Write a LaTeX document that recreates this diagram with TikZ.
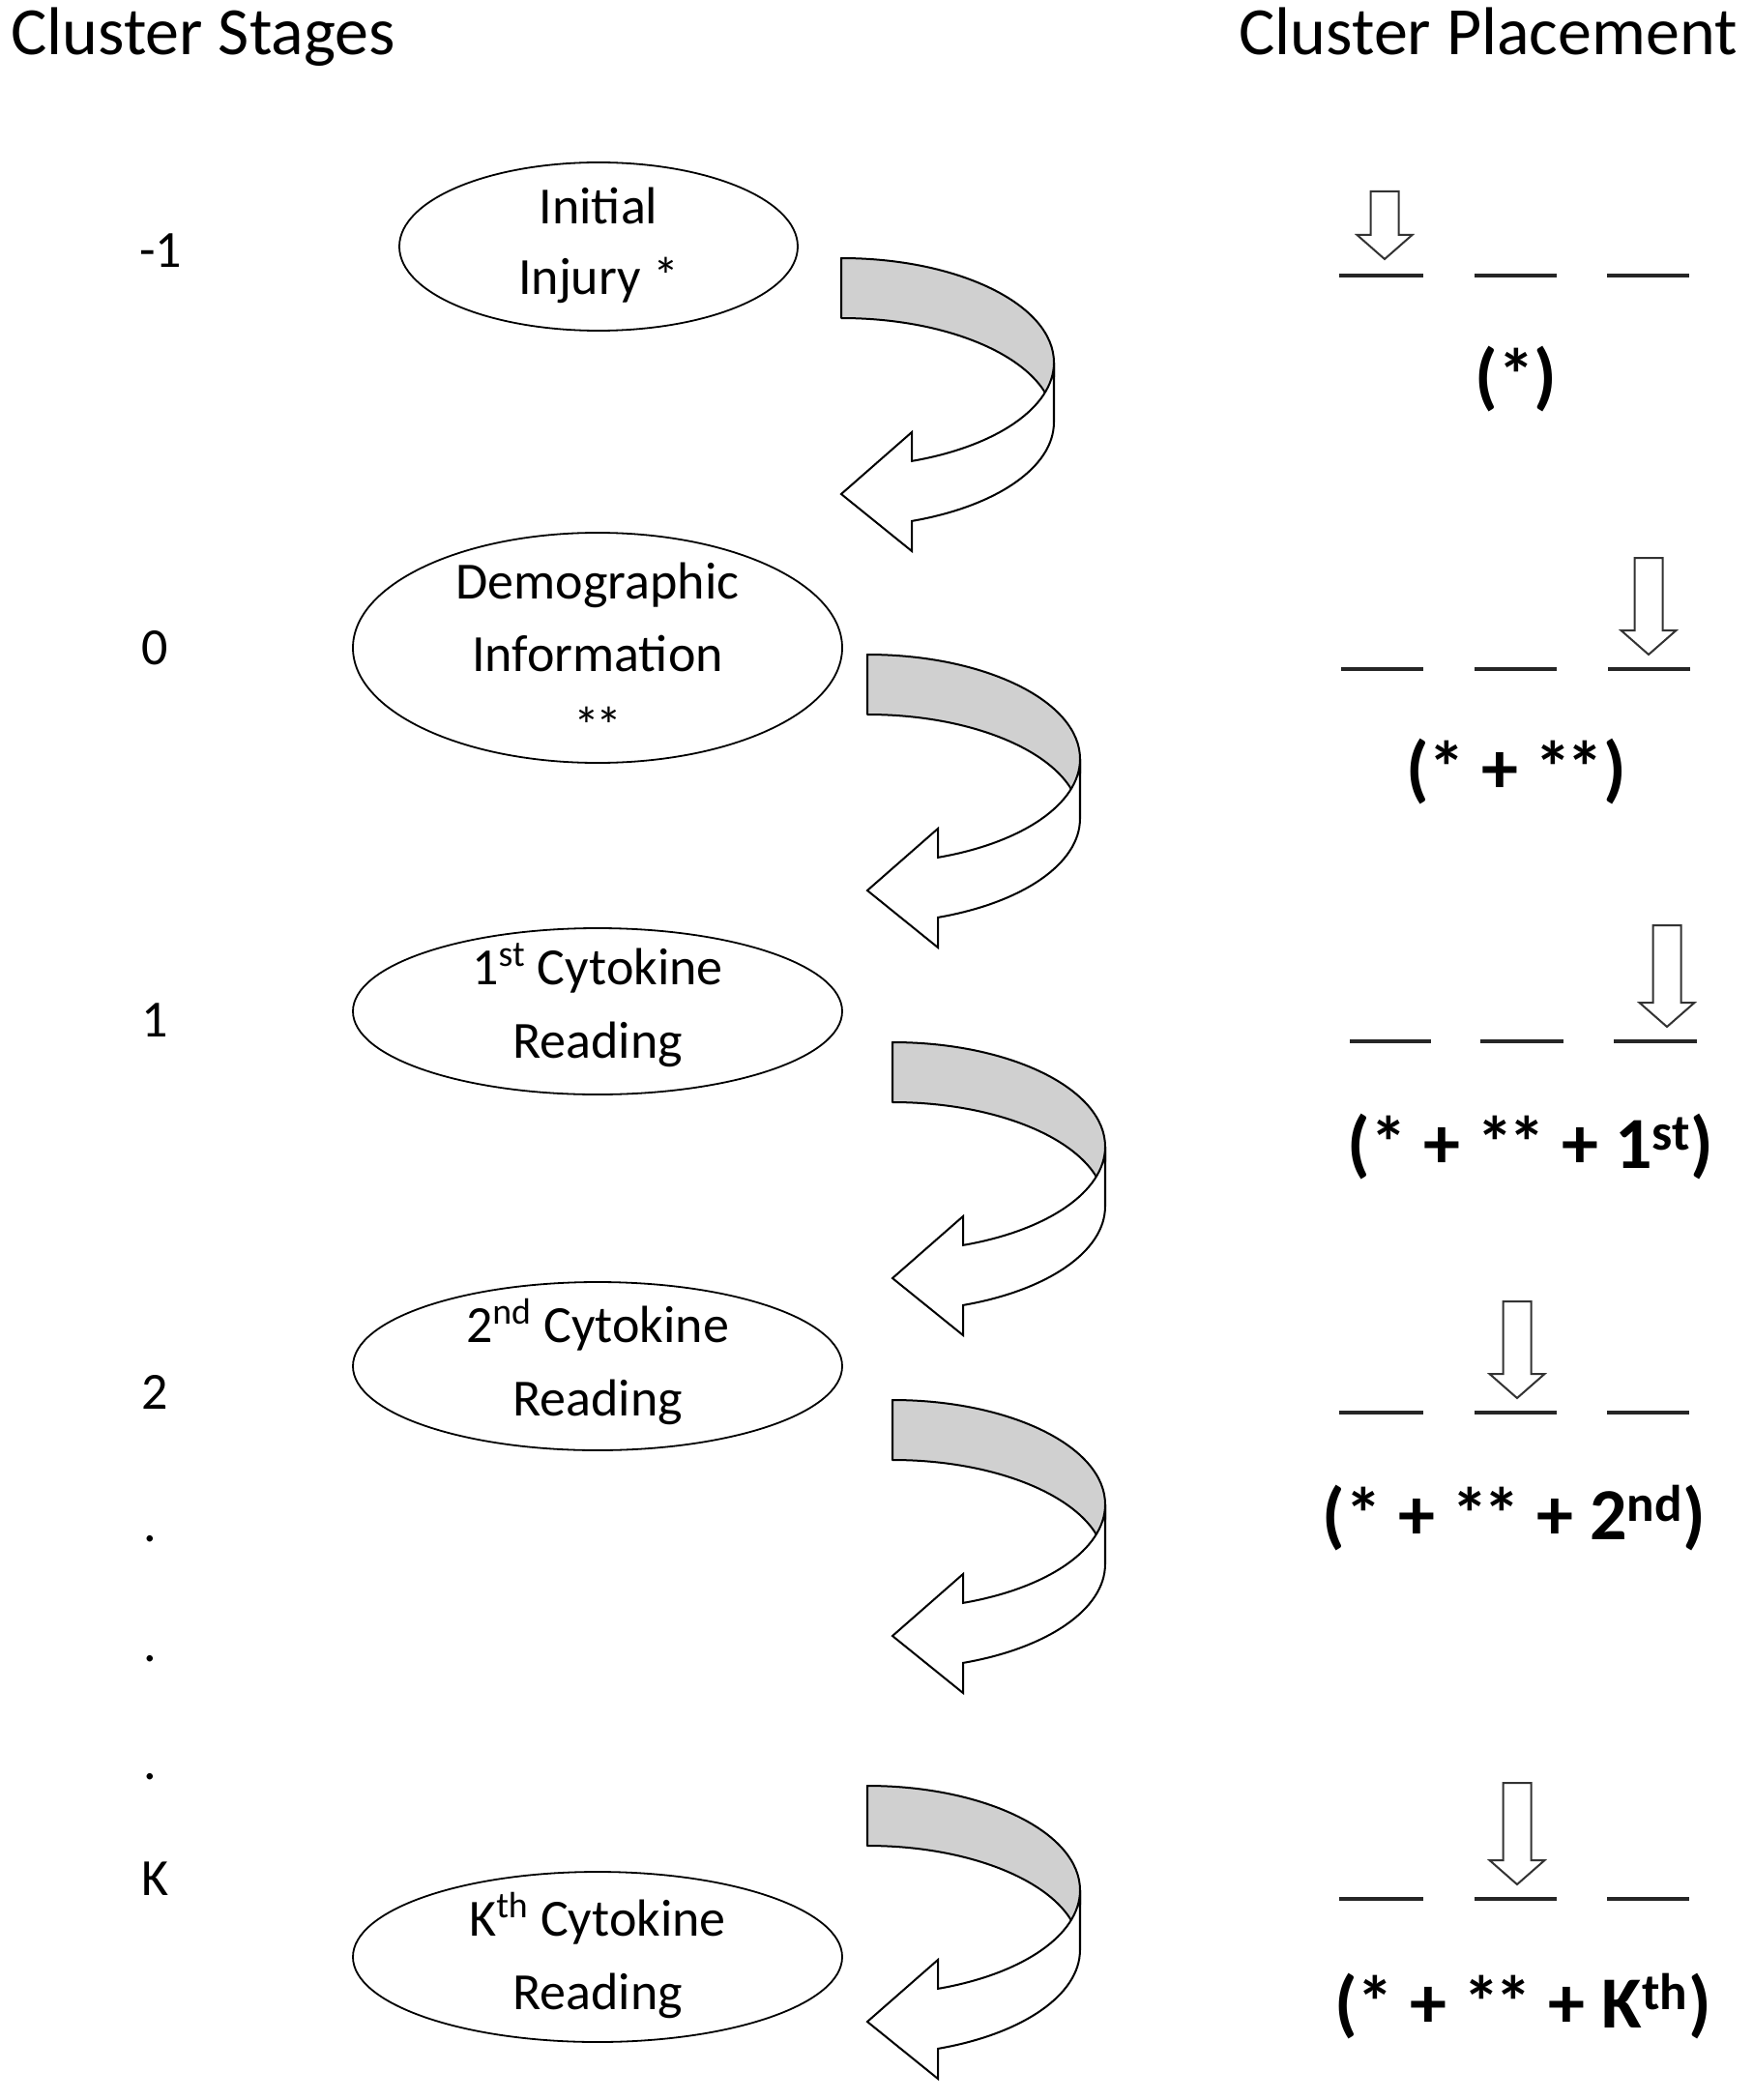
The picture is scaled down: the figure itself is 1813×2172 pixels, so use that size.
\documentclass[tikz,border=0pt]{standalone}
\usepackage{fontspec}
\setmainfont{Carlito}
\usetikzlibrary{shapes.geometric}
\definecolor{bandgray}{RGB}{208,208,208}
\newcommand{\dast}{*\kern-0.07em*}
\tikzset{
  txt/.style={font=\fontsize{27}{33}\selectfont, inner sep=0pt, anchor=base},
  numtxt/.style={font=\fontsize{27}{33}\selectfont, inner sep=0pt, anchor=base west},
  ttl/.style={font=\fontsize{35}{42}\selectfont, inner sep=0pt},
  lab/.style={font=\bfseries\fontsize{38}{46}\selectfont, inner sep=0pt, anchor=base},
  oval/.style={ellipse, draw, line width=0.9pt, inner sep=0pt},
  slot/.style={line width=2pt, black!85},
  pics/dnarrow/.style={code={
    \draw[line width=1pt, black!80, line join=miter]
      (-14.5,-#1) -- (14.5,-#1) -- (14.5,-25) -- (28.5,-25) -- (0,0)
      -- (-28.5,-25) -- (-14.5,-25) -- cycle;
  }},
  pics/turnarrow/.style={code={
    \filldraw[fill=bandgray, line width=1pt, line join=round]
      (0,0) arc[start angle=-90, end angle=0, x radius=220, y radius=108]
      -- (220,170) arc[start angle=0, end angle=-90, x radius=220, y radius=108]
      -- cycle;
    \filldraw[fill=white, line width=1pt, line join=miter]
      (220,108) arc[start angle=0, end angle=70.6, x radius=220, y radius=108]
      -- (73,180) -- (0,244) -- (73,303) -- (73,271.9)
      arc[start angle=70.6, end angle=0, x radius=220, y radius=108]
      -- cycle;
  }}
}
\begin{document}
\begin{tikzpicture}[x=0.5pt, y=-0.5pt]
\useasboundingbox (0,0) rectangle (1813,2172);

% titles
\node[ttl, anchor=base west] (tstages) at (11,57) {Cluster Stages};
\node[ttl, anchor=base east] (tplace) at (1797,57) {Cluster Placement};

% stage numbers
\node[numtxt] (n1) at (144,277) {-1};
\node[numtxt] (n2) at (146,687) {0};
\node[numtxt] (n3) at (146,1072) {1};
\node[numtxt] (n4) at (146,1457) {2};
\node[numtxt] (d1) at (148,1594) {.};
\node[numtxt] (d2) at (148,1718) {.};
\node[numtxt] (d3) at (148,1840) {.};
\node[numtxt] (n5) at (146,1960) {K};

% ellipses (sizes in pt = half of pixels)
\node[oval, minimum width=206pt, minimum height=87pt] (e1) at (619,255) {};
\node[oval, minimum width=253pt, minimum height=119pt] (e2) at (618,670) {};
\node[oval, minimum width=253pt, minimum height=86pt] (e3) at (618,1046) {};
\node[oval, minimum width=253pt, minimum height=87pt] (e4) at (618,1413) {};
\node[oval, minimum width=253pt, minimum height=88pt] (e5) at (618,2024) {};

\node[txt] (e1a) at (619,232) {Initial};
\node[txt] (e1b) at (619,305) {Injury *};
\node[txt] (e2a) at (618,619) {Demographic};
\node[txt] (e2b) at (618,694) {Information};
\node[txt] (e2c) at (618,769) {\dast};
\node[txt] (e3a) at (618,1018) {1\textsuperscript{st} Cytokine};
\node[txt] (e3b) at (618,1094) {Reading};
\node[txt] (e4a) at (618,1388) {2\textsuperscript{nd} Cytokine};
\node[txt] (e4b) at (618,1464) {Reading};
\node[txt] (e5a) at (618,2002) {K\textsuperscript{th} Cytokine};
\node[txt] (e5b) at (618,2078) {Reading};

% curved arrows
\pic (c1) at (870,267) {turnarrow};
\pic (c2) at (897,677) {turnarrow};
\pic (c3) at (923,1078) {turnarrow};
\pic (c4) at (923,1448) {turnarrow};
\pic (c5) at (897,1847) {turnarrow};

% placement rows
% row 1
\draw[slot] (1385,285) -- (1472,285);
\draw[slot] (1525,285) -- (1610,285);
\draw[slot] (1662,285) -- (1747,285);
\pic (a1) at (1432,268) {dnarrow=70};
\node[lab] (l1) at (1568,415) {(*)};
% row 2
\draw[slot] (1387,692) -- (1472,692);
\draw[slot] (1525,692) -- (1610,692);
\draw[slot] (1663,692) -- (1748,692);
\pic (a2) at (1705,677) {dnarrow=100};
\node[lab] (l2) at (1568,820) {(* + \dast)};
% row 3
\draw[slot] (1396,1077) -- (1480,1077);
\draw[slot] (1531,1077) -- (1617,1077);
\draw[slot] (1669,1077) -- (1755,1077);
\pic (a3) at (1724,1062) {dnarrow=105};
\node[lab] (l3) at (1583,1208) {(* + \dast{} + 1\textsuperscript{st})};
% row 4
\draw[slot] (1385,1461) -- (1472,1461);
\draw[slot] (1525,1461) -- (1610,1461);
\draw[slot] (1662,1461) -- (1747,1461);
\pic (a4) at (1569,1446) {dnarrow=100};
\node[lab] (l4) at (1566,1592) {(* + \dast{} + 2\textsuperscript{nd})};
% row 5
\draw[slot] (1385,1964) -- (1472,1964);
\draw[slot] (1525,1964) -- (1610,1964);
\draw[slot] (1662,1964) -- (1747,1964);
\pic (a5) at (1569,1949) {dnarrow=105};
\node[lab] (l5) at (1575,2097) {(* + \dast{} + K\textsuperscript{th})};
\end{tikzpicture}
\end{document}
